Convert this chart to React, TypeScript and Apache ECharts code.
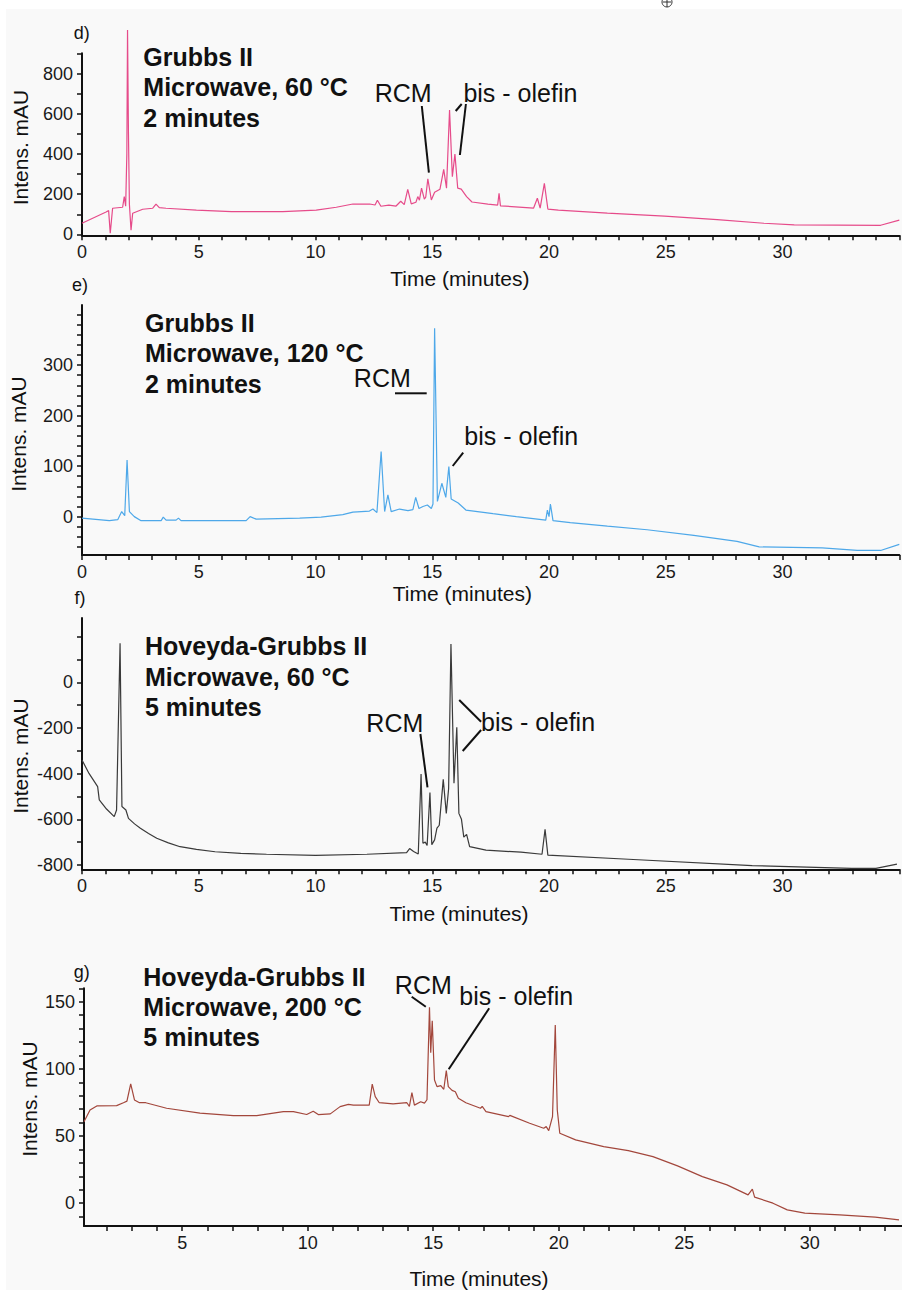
import React, { useEffect, useRef } from "react";
import * as echarts from "echarts";

const FONT = '"Liberation Sans", Arial, Helvetica, sans-serif';

// ---------- axis ticks / labels ----------
const timeTicksDEF = [0, 1, 2, 3, 4, 5, 6, 7, 8, 9, 10, 11, 12, 13, 14, 15, 16, 17, 18, 19, 20, 21, 22, 23, 24, 25, 26, 27, 28, 29, 30, 31, 32, 33, 34, 35];
const timeLabelsDEF = [0, 5, 10, 15, 20, 25, 30];
const timeTicksG = [2, 3, 4, 5, 6, 7, 8, 9, 10, 11, 12, 13, 14, 15, 16, 17, 18, 19, 20, 21, 22, 23, 24, 25, 26, 27, 28, 29, 30, 31, 32, 33];
const timeLabelsG = [5, 10, 15, 20, 25, 30];

const yTicksD = [0, 100, 200, 300, 400, 500, 600, 700, 800, 900];
const yLabelsD = [0, 200, 400, 600, 800];
const yTicksE = [-60, -40, -20, 0, 20, 40, 60, 80, 100, 120, 140, 160, 180, 200, 220, 240, 260, 280, 300, 320, 340, 360, 380, 400];
const yLabelsE = [0, 100, 200, 300];
const yTicksF = [-800, -700, -600, -500, -400, -300, -200, -100, 0, 100, 200];
const yLabelsF = [-800, -600, -400, -200, 0];
const yTicksG = [-10, 0, 10, 20, 30, 40, 50, 60, 70, 80, 90, 100, 110, 120, 130, 140, 150, 160];
const yLabelsG = [0, 50, 100, 150];

// ---------- traces [time (min), intensity (mAU)] ----------
const traceD = [
  [0, 55], [1.03, 111], [1.14, 118], [1.21, 5], [1.31, 130], [1.74, 135], [1.81, 188], [1.87, 140],
  [1.92, 400], [1.95, 1019], [1.99, 500], [2.03, 150], [2.1, 21], [2.17, 105], [2.6, 125], [3.03, 130],
  [3.17, 151], [3.31, 133], [3.6, 130], [4.9, 121], [6.4, 113], [8.6, 113], [10.03, 121], [10.89, 135],
  [11.6, 151], [12.32, 151], [12.55, 146], [12.65, 170], [12.8, 140], [13.14, 146], [13.45, 141],
  [13.65, 165], [13.8, 148], [13.95, 224], [14.1, 152], [14.3, 160], [14.38, 188], [14.45, 170],
  [14.54, 230], [14.66, 175], [14.72, 185], [14.81, 277], [14.96, 171], [15.1, 210], [15.33, 225],
  [15.49, 324], [15.61, 230], [15.74, 620], [15.86, 287], [15.97, 400], [16.09, 230], [16.24, 225],
  [16.47, 188], [16.7, 161], [17.38, 151], [17.8, 146], [17.86, 205], [17.92, 142], [19.34, 131],
  [19.5, 180], [19.62, 131], [19.8, 254], [19.95, 126], [20.4, 121], [22.5, 106], [24.95, 91],
  [27.2, 73], [29.2, 55], [30.5, 47], [34.2, 45], [35.0, 71],
];

const traceE = [
  [0, -3], [1.17, -8], [1.53, -6], [1.7, 10], [1.83, 2], [1.93, 112], [2.03, 10], [2.24, 0], [2.53, -8],
  [3.39, -8], [3.48, -1], [3.6, -7], [4.03, -7], [4.13, -3], [4.24, -8], [7.03, -8], [7.2, 0], [7.46, -5],
  [9.32, -3], [10.24, -1], [11.17, 4], [11.6, 9], [11.96, 10], [12.31, 11], [12.46, 15], [12.63, 8],
  [12.81, 129], [12.96, 10], [13.1, 43], [13.24, 10], [13.6, 15], [13.96, 12], [14.17, 14], [14.29, 38],
  [14.43, 16], [14.6, 20], [14.79, 23], [14.96, 16], [15.03, 25], [15.1, 373], [15.22, 30], [15.41, 66],
  [15.58, 38], [15.71, 99], [15.81, 35], [16.11, 27], [16.44, 13], [17.6, 6], [18.6, 0], [19.86, -7],
  [19.93, 13], [20.0, 0], [20.06, 25], [20.17, -8], [20.91, -12], [22.5, -19], [24.2, -26], [26.2, -37],
  [28.05, -49], [29.0, -60], [31.7, -62], [33.2, -67], [34.2, -67], [35.0, -55],
];

const traceF = [
  [0, -340], [0.3, -399], [0.67, -457], [0.74, -515], [1.05, -555], [1.38, -588], [1.48, -559],
  [1.63, 171], [1.71, -544], [1.88, -559], [1.99, -596], [2.25, -620], [2.5, -639], [2.85, -662],
  [3.2, -683], [3.7, -703], [4.2, -720], [4.9, -732], [5.7, -742], [6.8, -749], [7.9, -753],
  [10.0, -758], [12.2, -753], [13.9, -746], [14.03, -728], [14.2, -741],
  [14.4, -752], [14.52, -402], [14.6, -705], [14.7, -700], [14.78, -715], [14.9, -483], [14.98, -711],
  [15.1, -690], [15.2, -639], [15.3, -626], [15.47, -425], [15.6, -574], [15.7, -466], [15.8, 168],
  [15.93, -442], [16.05, -197], [16.14, -574], [16.25, -600], [16.35, -678], [16.47, -666],
  [16.6, -720], [17.3, -735], [18.8, -744], [19.7, -753], [19.83, -644], [19.95, -757], [23.4, -775],
  [28.7, -803], [32.96, -815], [34.0, -815], [34.9, -796],
];

const traceG = [
  [1.09, 60.7], [1.33, 69.4], [1.6, 72.4], [2.39, 72.6], [2.66, 74.8], [2.8, 76], [2.95, 88.8],
  [3.1, 76.9], [3.3, 74.8], [3.55, 74.8], [4.38, 70.7], [5.71, 67], [7.04, 65.2], [7.97, 65.2],
  [9.03, 68.2], [9.43, 68.2], [9.96, 66], [10.22, 68.5], [10.42, 66], [10.9, 66.5], [11.29, 71.9],
  [11.62, 73.6], [11.82, 73], [12.45, 73], [12.57, 88.6], [12.69, 79.3], [12.85, 74.8], [13.4, 74],
  [13.95, 74.8], [14.05, 72], [14.15, 82.3], [14.25, 73], [14.5, 75.5], [14.65, 74.5], [14.75, 77],
  [14.85, 145.8], [14.9, 112], [14.96, 135.9], [15.05, 91.7], [15.15, 86.8], [15.3, 87.5],
  [15.42, 84.8], [15.52, 98.7], [15.6, 86.8], [15.75, 84], [15.88, 83], [16.0, 78.1], [16.3, 74.8],
  [16.88, 70.7], [16.95, 72], [17.1, 68.2], [18.0, 64.4], [18.05, 65.4], [18.84, 59.5], [19.4, 55.8],
  [19.5, 57], [19.6, 54], [19.75, 64.4], [19.86, 132.7], [19.94, 69.4], [20.04, 52.1], [20.67, 47.1],
  [21.79, 42.1], [22.77, 39.1], [23.75, 34.7], [24.73, 27.8], [25.72, 19.8], [26.7, 13.6],
  [27.54, 6.2], [27.71, 10.4], [27.8, 4.5], [28.53, 0], [29.1, -5], [29.8, -7.4], [31.19, -8.7],
  [32.6, -10.4], [33.55, -12.4],
];

// ---------- panel texts ----------
const panelLetters = ["d)", "e)", "f)", "g)"];
const titlesD = ["Grubbs II", "Microwave, 60 °C", "2 minutes"];
const titlesE = ["Grubbs II", "Microwave, 120 °C", "2 minutes"];
const titlesF = ["Hoveyda-Grubbs II", "Microwave, 60 °C", "5 minutes"];
const titlesG = ["Hoveyda-Grubbs II", "Microwave, 200 °C", "5 minutes"];
const xName = "Time (minutes)";
const yName = "Intens. mAU";
const rcm = "RCM";
const bis = "bis - olefin";

const colors = ["#e64b8a", "#4ea8e9", "#3a3a3a", "#a3473c"];

function xAxisCfg(gridIndex: number, min: number, max: number, ticks: number[], labels: number[]) {
  return {
    type: "value",
    gridIndex,
    min,
    max,
    axisLine: { show: true, onZero: false, lineStyle: { color: "#111", width: 2 } },
    axisTick: { show: true, inside: false, length: 5, lineStyle: { color: "#111", width: 1.5 }, customValues: ticks },
    axisLabel: { show: true, margin: 8, fontSize: 18, color: "#1a1a1a", fontFamily: FONT, customValues: labels },
    splitLine: { show: false },
  };
}

function yAxisCfg(gridIndex: number, min: number, max: number, ticks: number[], labels: number[]) {
  return {
    type: "value",
    gridIndex,
    min,
    max,
    axisLine: { show: true, onZero: false, lineStyle: { color: "#111", width: 2 } },
    axisTick: { show: true, inside: false, length: 5, lineStyle: { color: "#111", width: 1.5 }, customValues: ticks },
    axisLabel: { show: true, margin: 9, fontSize: 18, color: "#1a1a1a", fontFamily: FONT, customValues: labels },
    splitLine: { show: false },
  };
}

function txt(text: string, x: number, y: number, size: number, o: any = {}) {
  const align = o.align || "left";
  return {
    type: "text",
    x,
    y,
    rotation: o.rot || 0,
    silent: true,
    style: {
      text,
      fill: "#111",
      fontSize: size,
      fontWeight: o.bold ? "bold" : "normal",
      fontFamily: FONT,
      align,
      verticalAlign: "middle",
      textAlign: align,
      textVerticalAlign: "middle",
    },
  };
}

function seg(x1: number, y1: number, x2: number, y2: number) {
  return { type: "line", silent: true, shape: { x1, y1, x2, y2 }, style: { stroke: "#111", lineWidth: 2 } };
}

function titleBlock(lines: string[], x: number, ys: number[]) {
  return lines.map((t, i) => txt(t, x, ys[i], 25, { bold: true }));
}

export default function App() {
  const ref = useRef<HTMLDivElement>(null);

  useEffect(() => {
    if (!ref.current) return;
    const chart = echarts.init(ref.current, undefined, { renderer: "svg" });

    const series = [traceD, traceE, traceF, traceG].map((d, i) => ({
      type: "line",
      xAxisIndex: i,
      yAxisIndex: i,
      data: d,
      showSymbol: false,
      symbol: "none",
      clip: false,
      silent: true,
      lineStyle: { color: colors[i], width: 1.2 },
    }));

    const graphic: any[] = [
      // tiny circled plus at the top
      { type: "circle", silent: true, shape: { cx: 667, cy: 2, r: 5 }, style: { fill: "none", stroke: "#333", lineWidth: 1 } },
      { type: "line", silent: true, shape: { x1: 663, y1: 2, x2: 671, y2: 2 }, style: { stroke: "#333", lineWidth: 1 } },
      { type: "line", silent: true, shape: { x1: 667, y1: 0, x2: 667, y2: 7 }, style: { stroke: "#333", lineWidth: 1 } },

      // panel letters
      txt(panelLetters[0], 81.7, 33.3, 18, { align: "center" }),
      txt(panelLetters[1], 80, 285, 18, { align: "center" }),
      txt(panelLetters[2], 80, 598.3, 18, { align: "center" }),
      txt(panelLetters[3], 81.7, 971.7, 18, { align: "center" }),

      // titles
      ...titleBlock(titlesD, 143.3, [56.7, 87.3, 117.7]),
      ...titleBlock(titlesE, 145, [323.3, 353.3, 384]),
      ...titleBlock(titlesF, 145, [646, 676.7, 706.7]),
      ...titleBlock(titlesG, 143.3, [976.7, 1006.7, 1037.3]),

      // axis names
      txt(xName, 459.8, 278.3, 21, { align: "center" }),
      txt(xName, 462.4, 593.3, 21, { align: "center" }),
      txt(xName, 459, 913.3, 21, { align: "center" }),
      txt(xName, 479, 1278.3, 21, { align: "center" }),
      txt(yName, 20, 147.5, 21, { align: "center", rot: Math.PI / 2 }),
      txt(yName, 18.5, 434, 21, { align: "center", rot: Math.PI / 2 }),
      txt(yName, 20.5, 756, 21, { align: "center", rot: Math.PI / 2 }),
      txt(yName, 29.5, 1099, 21, { align: "center", rot: Math.PI / 2 }),

      // panel d annotations
      txt(rcm, 403.1, 92.5, 25, { align: "center" }),
      seg(421.8, 106, 428.9, 172.7),
      txt(bis, 463.4, 92.5, 25),
      seg(455.7, 111, 461.7, 104),
      seg(465.9, 104, 459.9, 155),

      // panel e annotations
      txt(rcm, 382.3, 378.3, 25, { align: "center" }),
      seg(395, 393.3, 426.7, 393.3),
      txt(bis, 464.3, 436, 25),
      seg(452.7, 466, 463.2, 452.7),

      // panel f annotations
      txt(rcm, 394.8, 722.7, 25, { align: "center" }),
      seg(420.4, 734, 427.5, 787.3),
      txt(bis, 481.1, 721.7, 25),
      seg(459.2, 700, 481.1, 721.7),
      seg(481.1, 730, 462.7, 751),

      // panel g annotations
      txt(rcm, 423.3, 985, 25, { align: "center" }),
      seg(411.7, 996.7, 425.8, 1006.7),
      txt(bis, 459.3, 996, 25),
      seg(489.2, 1008.3, 448.7, 1069.3),
    ];

    chart.setOption({
      animation: false,
      backgroundColor: "transparent",
      textStyle: { fontFamily: FONT },
      grid: [
        { left: 82, top: 53.3, width: 817.3, height: 182 },
        { left: 82, top: 305, width: 817.3, height: 250 },
        { left: 82, top: 618, width: 817.3, height: 251.3 },
        { left: 84, top: 988.3, width: 818, height: 237.7 },
      ],
      xAxis: [
        xAxisCfg(0, 0, 35, timeTicksDEF, timeLabelsDEF),
        xAxisCfg(1, 0, 35, timeTicksDEF, timeLabelsDEF),
        xAxisCfg(2, 0, 35, timeTicksDEF, timeLabelsDEF),
        xAxisCfg(3, 1.09, 33.67, timeTicksG, timeLabelsG),
      ],
      yAxis: [
        yAxisCfg(0, -5, 903, yTicksD, yLabelsD),
        yAxisCfg(1, -76, 419, yTicksE, yLabelsE),
        yAxisCfg(2, -819, 282, yTicksF, yLabelsF),
        yAxisCfg(3, -17, 160, yTicksG, yLabelsG),
      ],
      series,
      graphic,
    });

    return () => chart.dispose();
  }, []);

  return (
    <div style={{ position: "absolute", left: 0, top: 0, width: 902, height: 1290, background: "#ffffff" }}>
      <div style={{ position: "absolute", left: 6, top: 9, right: 0, bottom: 0, background: "#f9f9f9" }} />
      <div ref={ref} style={{ position: "absolute", left: 0, top: 0, width: 902, height: 1290 }} />
    </div>
  );
}
